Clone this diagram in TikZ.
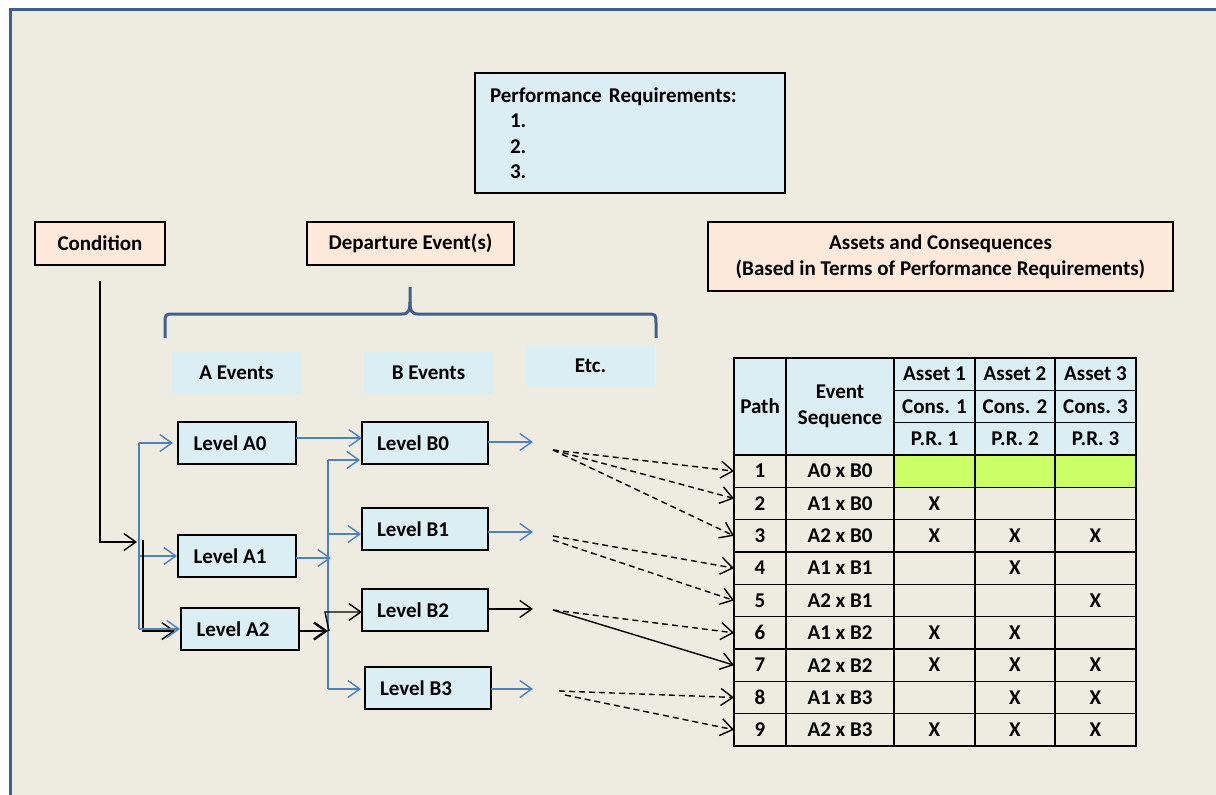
\documentclass[tikz,border=0pt]{standalone}
\usepackage{fontspec}
\setmainfont{Carlito}
\usetikzlibrary{arrows.meta}
\definecolor{bgc}{RGB}{238,235,224}
\definecolor{frm}{RGB}{65,95,140}
\definecolor{lb}{RGB}{219,238,243}
\definecolor{pch}{RGB}{253,233,217}
\definecolor{ab}{RGB}{79,129,189}
\definecolor{grn}{RGB}{204,255,102}
\begin{document}
\begin{tikzpicture}[x=1pt,y=-1pt,
 every node/.style={font=\fontsize{21}{24}\selectfont\bfseries, inner sep=0pt, outer sep=0pt},
 lvl/.style={draw=black, line width=1.4pt, fill=lb, minimum width=118pt, minimum height=42pt,
             execute at begin node=\hspace*{-14pt}},
 lvlb/.style={lvl, minimum width=126pt, execute at begin node=\hspace*{-10pt}},
 tag/.style={fill=lb, minimum width=129pt, minimum height=42pt},
 hdr/.style={draw=black, line width=1.4pt, fill=pch},
 tipped/.style={-{Straight Barb[length=12pt,width=17pt]}},
 barrow/.style={draw=ab, line width=1.4pt, tipped},
 bline/.style={draw=ab, line width=1.4pt},
 karrow/.style={draw=black, line width=1.4pt, tipped},
 darrow/.style={karrow, dash pattern=on 6pt off 4pt},
 cell/.style={draw=black, line width=1.6pt, anchor=north west, minimum height=32.33pt},
 brace/.style={draw=frm, line width=3pt}
]
\useasboundingbox (0,0) rectangle (1216,795);
\fill[white] (0,0) rectangle (1216,795);
\fill[bgc] (10,9) rectangle (1216,795);
\draw[frm, line width=3.5pt] (10.5,795) -- (10.5,9.5) -- (1216,9.5);

% top boxes
\node[draw=black, line width=1.4pt, fill=lb, minimum height=120pt, text width=280pt, inner xsep=15pt,
      align=left, font=\fontsize{21}{25.5}\selectfont\bfseries] (pr) at (630,133)
  {Performance Requirements:\\\hspace*{20pt}1.\\\hspace*{20pt}2.\\\hspace*{20pt}3.};
\node[hdr, minimum width=130pt, minimum height=43pt] (cond) at (100,243.5) {Condition};
\node[hdr, minimum width=207pt, minimum height=43pt] (dep) at (410.5,243.5) {Departure Event(s)};
\node[hdr, minimum width=465pt, minimum height=69pt, align=center,
      font=\fontsize{21}{26}\selectfont\bfseries] (ac) at (940.5,256.5)
  {Assets and Consequences\\(Based in Terms of Performance Requirements)};

% brace
\draw[brace] (165,338) -- (165,324) .. controls (165,314) .. (175,314) -- (402,314)
  .. controls (409,314) and (410,310) .. (410,302) -- (410,287);
\draw[brace] (410,302) .. controls (410,310) and (411,314) .. (418,314) -- (646,314)
  .. controls (656,314) .. (656,324) -- (656,338);

% tags
\node[tag] (ae) at (236.5,373) {A Events};
\node[tag] (be) at (428.5,373) {B Events};
\node[tag] (etc) at (590.5,366) {Etc.};

% level boxes
\node[lvl] (A0) at (237,443) {Level A0};
\node[lvl] (A1) at (237,556) {Level A1};
\node[lvl] (A2) at (240,629) {Level A2};
\node[lvlb] (B0) at (425,443) {Level B0};
\node[lvlb] (B1) at (425,529) {Level B1};
\node[lvlb] (B2) at (425,610) {Level B2};
\node[lvlb] (B3) at (428,688) {Level B3};

% table header
\node[cell, fill=lb, minimum width=52pt, minimum height=97pt] (hp) at (734,358) {Path};
\node[cell, fill=lb, minimum width=108pt, minimum height=97pt, align=center,
      font=\fontsize{21}{26}\selectfont\bfseries] (hs) at (786,358) {Event\\Sequence};
\foreach \j/\x/\w in {1/894/81,2/975/80,3/1055/81} {
  \node[cell, fill=lb, minimum width=\w pt] (as\j) at (\x,358) {Asset \j};
  \node[cell, fill=lb, minimum width=\w pt] (cs\j) at (\x,390.33) {Cons. \j};
  \node[cell, fill=lb, minimum width=\w pt] (pq\j) at (\x,422.67) {P.R. \j};
}
% table rows
\foreach \i/\s in {1/A0 x B0,2/A1 x B0,3/A2 x B0,4/A1 x B1,5/A2 x B1,6/A1 x B2,7/A2 x B2,8/A1 x B3,9/A2 x B3} {
  \pgfmathsetmacro\yt{358+32.33*(\i+2)}
  \node[cell, minimum width=52pt] (p\i) at (734,\yt) {\i};
  \node[cell, minimum width=108pt] (q\i) at (786,\yt) {\s};
  \node[cell, minimum width=81pt] (c\i1) at (894,\yt) {};
  \node[cell, minimum width=80pt] (c\i2) at (975,\yt) {};
  \node[cell, minimum width=81pt] (c\i3) at (1055,\yt) {};
}
\foreach \j in {1,2,3} \fill[grn] ([shift={(0.8pt,-0.8pt)}]c1\j.north west) rectangle ([shift={(-0.8pt,0.8pt)}]c1\j.south east);
\foreach \i/\j in {2/1,3/1,3/2,3/3,4/2,5/3,6/1,6/2,7/1,7/2,7/3,8/2,8/3,9/1,9/2,9/3}
  \node at (c\i\j) {X};

% condition connector
\coordinate (cin) at (137,542);
\draw[karrow] ([yshift=-16pt]cond.south) |- (cin);
% A fork
\coordinate (fa) at (139,443);
\coordinate (fab) at (139,629);
\draw[bline] (fa) -- (fab);
\draw[barrow, shorten >=5pt] (fa) -- (A0.west);
\draw[barrow, shorten >=1pt] (fa |- A1.west) -- (A1.west);
\coordinate (kb) at (143,540);
\coordinate (a2i) at ([yshift=-2pt]A2.west);
\draw[karrow, shorten >=6pt] (kb) |- (a2i);
\draw[barrow, shorten >=1pt] (fab) -- (A2.west);

% A -> B
\draw[barrow] ([yshift=5pt]A0.east) -- ([yshift=5pt]B0.west);
\coordinate (ma) at (331,558);
\draw[barrow] ([yshift=-2pt]A1.east) -- (ma);
\coordinate (fb) at (328,460);
\coordinate (fbb) at (328,689);
\draw[bline] (fb) -- (fbb);
\draw[barrow, shorten >=2pt] (fb) -- (fb -| B0.west);
\coordinate (b1i) at ([yshift=-5pt]B1.west);
\draw[barrow, shorten >=1pt] (fb |- b1i) -- (b1i);
\draw[barrow, shorten >=4pt] (fbb) -- (fbb -| B3.west);
\coordinate (a2o) at ([yshift=-2pt]A2.east);
\draw[bline] (a2o) -- (a2o -| fb);
\draw[karrow, line width=2.4pt] (a2o) -- (a2o -| fb);
\coordinate (kj) at (329,631);
\coordinate (kk) at (325,612);
\draw[karrow] (kj) -- (kk) -- (kk -| B2.west);

% B outputs
\coordinate (o0) at (533,442);
\coordinate (o1) at (533,532);
\coordinate (o2) at (533,609);
\coordinate (o3) at (533,689);
\draw[barrow] (B0.east |- o0) -- (o0);
\draw[barrow] (B1.east |- o1) -- (o1);
\draw[karrow] (B2.east |- o2) -- (o2);
\draw[barrow] (B3.east |- o3) -- (o3);

% to table
\coordinate (s0) at (553,450);
\coordinate (s1a) at (553,536);
\coordinate (s1b) at (553,540);
\coordinate (s2) at (553,610);
\coordinate (s3a) at (559,691);
\coordinate (s3b) at (565,695);
\draw[darrow] (s0) -- (p1.west);
\draw[darrow] (s0) -- ([yshift=5pt]p2.west);
\draw[darrow] (s0) -- (p3.west);
\draw[darrow] (s1a) -- (p4.west);
\draw[darrow] (s1b) -- (p5.west);
\draw[darrow] (s2) -- (p6.west);
\draw[karrow] (s2) -- (p7.west);
\draw[darrow] (s3a) -- (p8.west);
\draw[darrow] (s3b) -- (p9.west);
\end{tikzpicture}
\end{document}
